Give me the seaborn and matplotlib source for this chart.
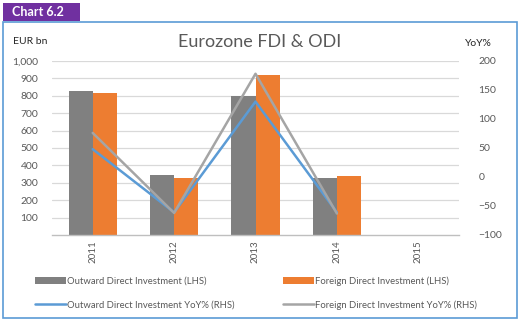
import numpy as np
import pandas as pd
import matplotlib
matplotlib.use("Agg")
import matplotlib.pyplot as plt
from matplotlib.patches import Rectangle, Patch
from matplotlib.lines import Line2D
import seaborn as sns

years = ["2011", "2012", "2013", "2014", "2015"]
odi_eur = [828, 344, 800, 327, np.nan]
fdi_eur = [817, 327, 921, 338, np.nan]
odi_yoy = [48, -61, 130, -61, np.nan]
fdi_yoy = [76, -62, 178, -63, np.nan]
series_bar = ["Outward Direct Investment (LHS)", "Foreign Direct Investment (LHS)"]
series_line = ["Outward Direct Investment YoY% (RHS)", "Foreign Direct Investment YoY% (RHS)"]
left_ticks = [100, 200, 300, 400, 500, 600, 700, 800, 900, 1000]
right_ticks = [-100, -50, 0, 50, 100, 150, 200]

C_ODI = "#808080"
C_FDI = "#ED7D31"
C_ODI_L = "#5B9BD5"
C_FDI_L = "#A5A5A5"
TXT = "#595959"

sns.set_theme(style="white")
plt.rcParams["font.family"] = ["Lato", "DejaVu Sans"]

W, H = 521, 328
fig = plt.figure(figsize=(W / 100, H / 100), dpi=100)

def fx(px):
    return px / W

def fy(py):
    return 1 - py / H

ax = fig.add_axes([fx(52), fy(235), fx(459) - fx(52), fy(61) - fy(235)])

bars = pd.DataFrame({
    "year": years * 2,
    "value": odi_eur + fdi_eur,
    "series": [series_bar[0]] * len(years) + [series_bar[1]] * len(years),
})
sns.barplot(data=bars, x="year", y="value", hue="series", order=years,
            hue_order=series_bar, palette=[C_ODI, C_FDI], width=0.59,
            saturation=1, ax=ax, legend=False, linewidth=0)

ax.set_ylim(0, 1000)
ax.set_yticks(left_ticks)
ax.set_yticklabels([f"{t:,}" for t in left_ticks])
ax.set_xlim(-0.5, len(years) - 0.5)
ax.set_xlabel("")
ax.set_ylabel("")
ax.grid(axis="y", color="#D9D9D9", linewidth=0.9)
ax.set_axisbelow(True)
for s in ["left", "right", "top"]:
    ax.spines[s].set_visible(False)
ax.spines["bottom"].set_color("#BFBFBF")
ax.spines["bottom"].set_linewidth(1)
ax.tick_params(axis="y", length=0, pad=10, labelsize=7.5, labelcolor=TXT)
ax.tick_params(axis="x", length=0, pad=4, labelsize=7, labelcolor=TXT, rotation=90)

ax2 = ax.twinx()
pos = np.arange(len(years))
lines = pd.DataFrame({
    "pos": np.concatenate([pos, pos]),
    "value": odi_yoy + fdi_yoy,
    "series": [series_line[0]] * len(years) + [series_line[1]] * len(years),
})
sns.lineplot(data=lines, x="pos", y="value", hue="series", hue_order=series_line,
             palette=[C_ODI_L, C_FDI_L], linewidth=1.8, ax=ax2, legend=False)
ax2.set_ylim(-100, 200)
ax2.set_yticks(right_ticks)
ax2.set_ylabel("")
ax2.set_xlabel("")
ax2.set_xlim(-0.5, len(years) - 0.5)
for s in ["left", "right", "top", "bottom"]:
    ax2.spines[s].set_visible(False)
ax2.tick_params(axis="y", length=0, pad=14, labelsize=7.5, labelcolor=TXT)
ax2.grid(False)

fig.text(fx(260), fy(42), "Eurozone FDI & ODI", ha="center", va="center",
         fontsize=13, color=TXT, fontweight="normal")
fig.text(fx(13), fy(42), "EUR bn", ha="left", va="center", fontsize=7.5, color="#262626")
fig.text(fx(465), fy(44), "YoY%", ha="left", va="center", fontsize=7.5, color="#262626")

handles = [
    Patch(facecolor=C_ODI, edgecolor="none", label=series_bar[0]),
    Line2D([0], [0], color=C_ODI_L, lw=1.8, label=series_line[0]),
    Patch(facecolor=C_FDI, edgecolor="none", label=series_bar[1]),
    Line2D([0], [0], color=C_FDI_L, lw=1.8, label=series_line[1]),
]
leg = fig.legend(handles=handles, ncol=2, loc="center left",
                 bbox_to_anchor=(fx(26), fy(293)), frameon=False,
                 fontsize=6.8, handlelength=3.3, handleheight=0.9,
                 handletextpad=0.1, columnspacing=5.2, labelspacing=1.55,
                 labelcolor=TXT)

fig.patches.append(Rectangle((fx(3), fy(318)), fx(517) - fx(3), fy(22) - fy(318),
                             transform=fig.transFigure, fill=False,
                             edgecolor="#5B9BD5", linewidth=1.2, zorder=0))
fig.patches.append(Rectangle((fx(3), fy(21)), fx(80) - fx(3), fy(3) - fy(21),
                             transform=fig.transFigure, facecolor="#7030A0",
                             edgecolor="none", zorder=0))
fig.text(fx(12), fy(12), "Chart 6.2", ha="left", va="center", fontsize=9,
         fontweight="bold", color="white")

fig.savefig("out.png", dpi=100)
